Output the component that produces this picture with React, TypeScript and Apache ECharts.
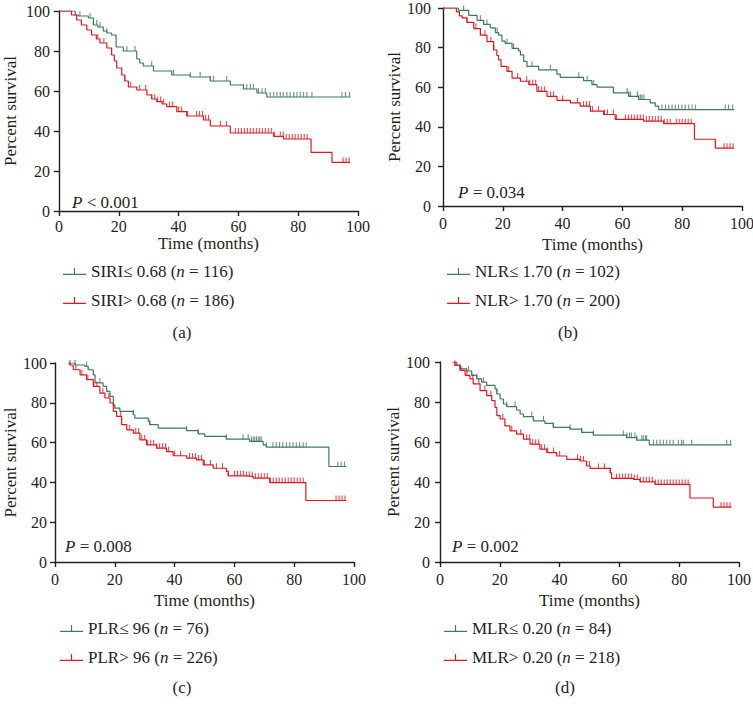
import React, { useEffect, useRef } from "react";
import * as echarts from "echarts";

type Pt = [number, number];

// ---------- Data (time in months, percent survival) ----------
const xTickValues = [0, 20, 40, 60, 80, 100];

// (a) SIRI
const siriLowSteps: Pt[] = [[0,100],[5.4,98],[6.5,97.5],[9.8,96.5],[11.5,93],[13,92],[14.8,90],[16,89],[17.6,88],[19.1,82],[21.5,80],[26,76],[27,74],[28.2,72.5],[31.6,70],[37.7,68],[43.9,67],[50.6,65],[57.3,63],[61.7,61],[66.2,59],[69.5,57],[97.4,57]];
const siriHighSteps: Pt[] = [[0,100],[4.2,98],[5.9,95.5],[7.5,93],[9.3,90.5],[10.9,88],[12.5,86],[13.7,84],[16,81.5],[17.6,78],[18.5,75],[19.3,71.5],[21,68],[22,65],[23.2,62],[26,60.5],[29.4,58],[31,56],[32.7,54.7],[34.5,53.5],[36,52.2],[39.4,49.7],[42.7,47.5],[48.3,45.5],[50.6,42.5],[57.3,39],[71.8,37.3],[75.1,36],[84.3,29.3],[91.3,24.3],[97.4,24.3]];
const siriLowCensor = [7,10.4,12.6,13.7,16,22.7,25.4,31,38.3,43.9,47.2,50.6,51.7,56.1,61.7,62.8,64,65,66.7,67.9,69,70.6,71.8,72.9,74,75,76.2,77.3,78.5,79.6,80.7,81.8,82.9,84.6,94.6,95.8,97.2];
const siriHighCensor = [13,15,22,24,27,29,31,32,33,34,35,37,38,40,41,43,46,47,48,49,50,54,56,59,60,61,62,63,64,65,66,67,68,69,70,71,72,74,75,76,77,78,79,80,81,82,83,95,96,97];

// (b) NLR
const nlrLowSteps: Pt[] = [[0,100],[5.2,98.8],[8.6,96.3],[11.4,93.8],[13.6,91.7],[15.8,90],[17.5,87.6],[18.6,86.3],[19.7,83.3],[20.8,82.1],[23.1,79.6],[25.3,78.3],[25.9,76.3],[27,73],[28.1,70.5],[32,68.8],[38.1,66.6],[39.2,65],[47,63.3],[49.8,61.3],[51.5,60],[57,57.1],[62.1,55.4],[65.4,53.8],[69.3,52.1],[71,50.4],[72.1,48.7],[97.4,48.7]];
const nlrHighSteps: Pt[] = [[0,100],[4.5,98],[5.5,96],[6.4,95],[8,92.7],[10.3,89.6],[12.5,86.3],[14.7,83],[16.9,78.8],[18,76],[18.6,73.8],[19.4,70.5],[21.4,68],[23.1,64.6],[25.9,63],[28.7,61.3],[31.4,57.9],[34.8,55.4],[38.1,53.3],[42.6,52.1],[45.9,50.4],[49.3,47.9],[53.7,46.2],[57.6,43.7],[67.1,42.9],[73.8,41.6],[84.1,33.7],[91.1,29.2],[97.4,29.2]];
const nlrLowCensor = [6.9,12.5,14.7,18.1,21.4,23.6,29.8,35.9,45.4,48.2,50.4,57,61.6,62.1,62.7,65,65.5,66.1,66.6,67.2,73.2,74.4,75.5,76.6,77.7,78.8,79.9,81,82.2,83.3,84.4,94.4,95.5,96.9];
const nlrHighCensor = [8,11,14,16,17,22,25,28,29,30,31,32,33,34,36,37,40,45,47,48,49,50,52,54,55,57,58,61,62,63,64,65,66,67,68,69,70,71,72,73,74,75,76,78,79,80,81,82,83,94,95,96,97];

// (c) PLR
const plrLowSteps: Pt[] = [[4.5,100],[6.7,99],[10,98.3],[11.1,96.6],[12.8,94],[13.4,90],[16.1,88.3],[17.3,85.7],[18.4,83.2],[19.5,79],[20,77.3],[21.7,75.7],[26.2,74],[26.7,72.3],[31.2,70.6],[31.7,69],[34.5,67.3],[44,66],[47.9,64.4],[50.1,63.1],[57.3,61.7],[65.1,60.6],[69.6,58.9],[70.7,57.7],[91.6,48],[97.4,48]];
const plrHighSteps: Pt[] = [[4.5,100],[5,99],[6.1,96.6],[8.4,94],[10.6,91.6],[12.8,88.3],[15,84.9],[16.7,82.4],[18.4,79.9],[19.5,75.7],[20.6,73.2],[22.3,69],[24,66.4],[26.2,64.8],[28.4,61.4],[30.6,58.9],[34,57.2],[37.3,55.5],[39.5,53.4],[44,52.2],[47.3,51.3],[49.6,48.8],[52.9,47.1],[57.3,45.5],[57.9,43.3],[64,43],[66.3,42.1],[71.8,39.9],[83.9,30.9],[97.4,30.9]];
const plrLowCensor = [6.7,10.6,15,26.2,31.7,44,47.9,57.3,62.9,64.6,65.7,66.3,66.8,67.4,68,68.5,69,70.7,72.9,74,75.1,76.2,77.4,78.5,79.6,80.7,81.8,83,84,94.6,95.7,96.8];
const plrHighCensor = [5,7,9,11,13,14,16,18,22,25,27,28,29,30,31,32,33,34,35,36,37,38,40,42,45,46,47,48,49,50,52,54,56,58,60,61,62,63,64,65,66,67,68,69,70,71,72,73,74,75,76,77,78,79,80,81,82,83,94,95,96,97];

// (d) MLR
const mlrLowSteps: Pt[] = [[4.7,100],[5.6,98.3],[6.7,96.6],[8.9,95.5],[10.6,93.3],[12.3,91.6],[13.9,89.9],[15.6,88.3],[18.4,86.6],[19,84],[20.1,81.5],[21.2,79],[22.3,77.7],[25.6,76],[26.8,74],[27.9,72.7],[31.2,70.6],[35.1,69.3],[37.9,67.3],[43.5,66.4],[47.4,64.8],[51.3,63.4],[62.4,62.2],[65.8,60.9],[70,58.6],[97.5,58.6]];
const mlrHighSteps: Pt[] = [[4.2,100],[5,98.3],[6.7,95.8],[8.4,93.3],[10,91.6],[11.1,89.1],[13.4,85.7],[15.6,83.2],[17.3,80.7],[18.4,77.3],[19,73.2],[20.1,71.5],[21.7,68.1],[23.4,65.6],[25.6,63.9],[27.9,61.4],[30.1,58.9],[33.4,56.4],[35.7,54.7],[39,53],[42.4,51.3],[46.8,50.5],[49,48],[50.2,46.8],[56.9,44.6],[57.4,41.8],[64.7,41.3],[66.9,40.1],[71.9,38.8],[83.6,32],[91.4,27.4],[97.5,27.4]];
const mlrLowCensor = [6.7,9.5,12.3,14.5,19,22.3,25.1,30.7,34.6,37.9,43.5,47.4,51.3,61.3,62.5,63.4,64,65.2,65.8,67.5,68,68.7,69.1,71.4,72.5,73.6,74.7,75.8,76.9,78,79.7,80.8,81.4,84.2,95.9,97.2];
const mlrHighCensor = [5,7,9,11,13,15,17,21,24,27,29,30,31,32,33,34,35,36,38,40,46,47,48,49,50,53,55,57,59,60,61,62,63,64,65,66,67,68,69,70,71,72,73,74,75,76,77,78,79,80,81,82,83,94,95,96,97];

const lowLabels = ["SIRI≤ 0.68", "NLR≤ 1.70", "PLR≤ 96", "MLR≤ 0.20"];
const highLabels = ["SIRI> 0.68", "NLR> 1.70", "PLR> 96", "MLR> 0.20"];
const lowN = [116, 102, 76, 84];
const highN = [186, 200, 226, 218];
const pTexts = ["< 0.001", "= 0.034", "= 0.008", "= 0.002"];
const panelLetters = ["(a)", "(b)", "(c)", "(d)"];

// ---------- Styling / layout ----------
const FONT = "'Liberation Serif', 'Times New Roman', serif";
const INK = "#231f20";
const GREEN = "#3f7a5a";
const RED = "#e3161f";
const TXT = 17;
const TICK_TXT = 16;

const layouts = [
  { grid: { left: 59, top: 11, width: 299, height: 200 }, xMargin: 7, xNameGap: 23, yMargin: 9, yNameGap: 40, legend: { left: 58, top: 257 }, p: [72, 202], letter: [182, 332] },
  { grid: { left: 443, top: 8, width: 299, height: 198 }, xMargin: 9, xNameGap: 30, yMargin: 12, yNameGap: 36, legend: { left: 442, top: 257 }, p: [458, 192], letter: [568, 332] },
  { grid: { left: 55, top: 363, width: 299, height: 199 }, xMargin: 9, xNameGap: 30, yMargin: 8, yNameGap: 33, legend: { left: 55, top: 614 }, p: [65, 546], letter: [182, 687] },
  { grid: { left: 440, top: 362, width: 299, height: 200 }, xMargin: 9, xNameGap: 30, yMargin: 10, yNameGap: 35, legend: { left: 439, top: 614 }, p: [452, 546], letter: [565, 687] },
];

const panelData = [
  { low: siriLowSteps, high: siriHighSteps, lowC: siriLowCensor, highC: siriHighCensor },
  { low: nlrLowSteps, high: nlrHighSteps, lowC: nlrLowCensor, highC: nlrHighCensor },
  { low: plrLowSteps, high: plrHighSteps, lowC: plrLowCensor, highC: plrHighCensor },
  { low: mlrLowSteps, high: mlrHighSteps, lowC: mlrLowCensor, highC: mlrHighCensor },
];

// value of a KM step function at time t
function survivalAt(steps: Pt[], t: number): number {
  let s = steps[0][1];
  for (const [ti, si] of steps) {
    if (ti <= t) s = si;
    else break;
  }
  return s;
}

const LEGEND_ICON = "path://M0,5.8 L23,5.8 L23,7 L0,7 Z M10.9,0 L12.1,0 L12.1,5.8 L10.9,5.8 Z";
const TICK_SYMBOL = "path://M0,0 L1,0 L1,1 L0,1 Z";

function buildOption() {
  const grids: any[] = [];
  const xAxes: any[] = [];
  const yAxes: any[] = [];
  const series: any[] = [];
  const legends: any[] = [];
  const graphics: any[] = [];
  const nameMap: Record<string, string> = {};

  layouts.forEach((L, i) => {
    grids.push({ ...L.grid, containLabel: false, outerBoundsMode: "none" });
    const axisCommon = {
      min: 0,
      max: 100,
      interval: 20,
      axisLine: { show: true, onZero: false, lineStyle: { color: INK, width: 1.4 } },
      axisTick: { show: true, inside: false, length: 5, lineStyle: { color: INK, width: 1.4 } },
      splitLine: { show: false },
      nameLocation: "middle",
      nameTextStyle: { fontFamily: FONT, fontSize: TXT, color: INK },
    };
    xAxes.push({
      ...axisCommon,
      type: "value",
      gridIndex: i,
      name: "Time (months)",
      nameGap: L.xNameGap,
      axisLabel: {
        fontFamily: FONT, fontSize: TICK_TXT, color: INK, margin: L.xMargin,
        customValues: xTickValues,
      },
      axisTick: { ...axisCommon.axisTick, customValues: xTickValues },
    });
    yAxes.push({
      ...axisCommon,
      type: "value",
      gridIndex: i,
      name: "Percent survival",
      nameGap: L.yNameGap,
      axisLabel: { fontFamily: FONT, fontSize: TICK_TXT, color: INK, margin: L.yMargin, lineHeight: 12 },
    });

    const D = panelData[i];
    const groups = [
      { name: lowLabels[i], n: lowN[i], steps: D.low, cens: D.lowC, color: GREEN },
      { name: highLabels[i], n: highN[i], steps: D.high, cens: D.highC, color: RED },
    ];
    groups.forEach((g) => {
      nameMap[g.name] = `${g.name} ({i|n} = ${g.n})`;
      series.push({
        type: "line",
        name: g.name,
        xAxisIndex: i,
        yAxisIndex: i,
        step: "end",
        data: g.steps,
        symbol: "none",
        showSymbol: false,
        silent: true,
        color: g.color,
        itemStyle: { color: g.color },
        lineStyle: { color: g.color, width: 1.2 },
        z: 3,
      });
      series.push({
        type: "scatter",
        name: g.name + " censored",
        xAxisIndex: i,
        yAxisIndex: i,
        data: g.cens.map((t) => [t, survivalAt(g.steps, t)]),
        symbol: TICK_SYMBOL,
        symbolSize: [1.1, 5],
        symbolOffset: [0, "-50%"],
        silent: true,
        itemStyle: { color: g.color },
        z: 4,
      });
    });

    legends.push({
      orient: "vertical",
      left: L.legend.left,
      top: L.legend.top,
      itemWidth: 23,
      itemHeight: 7,
      itemGap: 10,
      selectedMode: false,
      icon: LEGEND_ICON,
      data: groups.map((g) => ({ name: g.name, icon: LEGEND_ICON, itemStyle: { color: g.color } })),
      formatter: (name: string) => nameMap[name] || name,
      textStyle: {
        fontFamily: FONT,
        fontSize: TXT,
        color: INK,
        lineHeight: 19,
        rich: {
          i: { fontFamily: FONT, fontSize: TXT, fontStyle: "italic", color: INK, lineHeight: 19 },
        },
      },
    });

    graphics.push({
      type: "text",
      x: L.p[0],
      y: L.p[1],
      silent: true,
      style: {
        text: `{i|P} ${pTexts[i]}`,
        fontFamily: FONT,
        fontSize: TXT,
        fill: INK,
        textVerticalAlign: "middle",
        verticalAlign: "middle",
        rich: { i: { fontFamily: FONT, fontSize: TXT, fontStyle: "italic", fill: INK, color: INK } },
      },
    });
    graphics.push({
      type: "text",
      x: L.letter[0],
      y: L.letter[1],
      silent: true,
      style: {
        text: panelLetters[i],
        fontFamily: FONT,
        fontSize: TXT,
        fill: INK,
        align: "center",
        textAlign: "center",
        verticalAlign: "middle",
        textVerticalAlign: "middle",
      },
    });
  });

  return {
    animation: false,
    backgroundColor: "#ffffff",
    grid: grids,
    xAxis: xAxes,
    yAxis: yAxes,
    legend: legends,
    series,
    graphic: graphics,
  };
}

export default function App() {
  const ref = useRef<HTMLDivElement>(null);
  useEffect(() => {
    if (!ref.current) return;
    const chart = echarts.init(ref.current, undefined, { renderer: "svg" });
    chart.setOption(buildOption() as any);
    return () => chart.dispose();
  }, []);
  return (
    <div
      ref={ref}
      style={{ position: "absolute", left: 0, top: 0, width: 753, height: 709 }}
    />
  );
}
